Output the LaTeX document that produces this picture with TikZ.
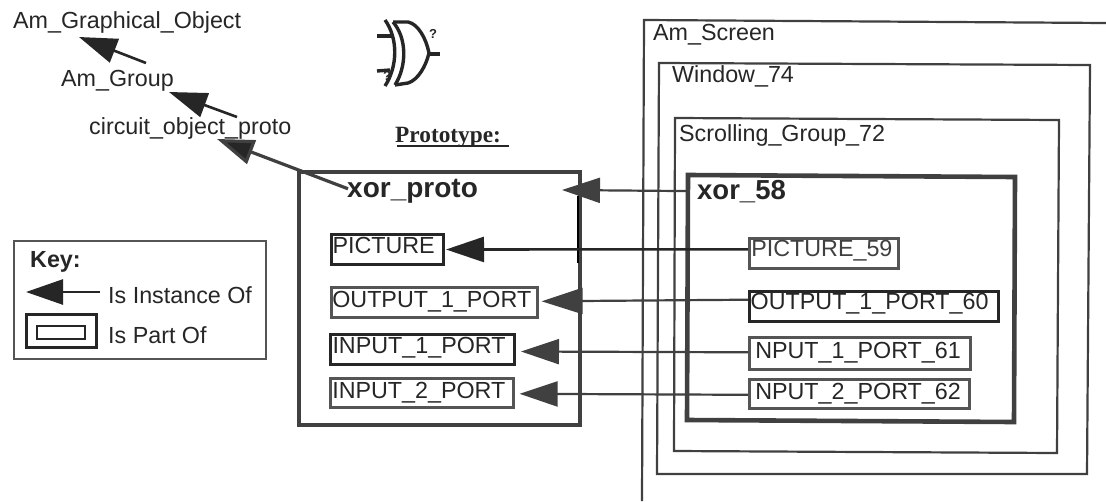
\documentclass[tikz,border=0pt]{standalone}
\usepackage{fontspec}
\setmainfont{Liberation Sans}
\newfontfamily\protofont{Liberation Serif}
\usetikzlibrary{arrows.meta}
\definecolor{ink}{HTML}{262626}
\definecolor{mid}{HTML}{404040}
\definecolor{soft}{HTML}{555555}
\newcommand{\bx}[3]{\makebox[#1pt][l]{\hspace{#2pt}#3}}
\tikzset{
  x=1pt,y=-1pt,
  lbl/.style={font=\fontsize{23.3}{26}\selectfont,text=ink,inner sep=0pt,anchor=base west},
  partbox/.style={draw=ink,line width=3pt,inner sep=0pt,anchor=north west,font=\fontsize{23.3}{26}\selectfont,text=ink,text height=19pt,text depth=11pt},
  softbox/.style={partbox,draw=soft,line width=2.6pt},
  frame/.style={draw=mid,line width=2.2pt},
  heavy/.style={draw=mid,line width=4.6pt},
  inst/.style={draw=ink,fill=ink,line width=2.6pt,-{Triangle[length=38pt,width=25pt,fill=ink]}},
  instm/.style={draw=mid,line width=2.2pt,-{Triangle[length=38pt,width=25pt,fill=mid]}},
}
\begin{document}
\begin{tikzpicture}
\useasboundingbox (0,0) rectangle (1106,501);
\fill[white] (0,0) rectangle (1106,501);
% screen frames
\draw[frame] (1106,23) -- (644,20) -- (642,501);
\draw[frame] (659,63) -- (1090,65) -- (1087,474) -- (657,474) -- cycle;
\draw[frame] (675,118) -- (1059,120) -- (1057,453) -- (674,451) -- cycle;
\draw[heavy] (688,175) -- (1015,177) -- (1014,422) -- (687,420) -- cycle;
\node[lbl] (screen) at (653,40) {Am\_Screen};
\node[lbl] (window) at (672,82) {Window\_74};
\node[lbl] (scroll) at (679,141) {Scrolling\_Group\_72};
\node[lbl,font=\fontsize{27.5}{30}\selectfont\bfseries] (xor58) at (697,199) {xor\_58};
% prototype box
\draw[heavy] (299,172) rectangle (580,425);
\draw[draw=black,line width=2pt] (578,196) -- (578,263);
\node[lbl,font=\fontsize{28}{30}\selectfont\bfseries] (xorp) at (347,197) {xor\_proto};
\node[partbox] (pic) at (330,233) {\bx{112}{1}{PICTURE}};
\node[softbox,text height=20pt,text depth=10pt] (out) at (330,286) {\bx{206}{1}{OUTPUT\_1\_PORT}};
\node[partbox] (in1) at (329,333) {\bx{184}{2}{INPUT\_1\_PORT}};
\node[softbox,text height=20pt,text depth=9pt] (in2) at (329,377) {\bx{183}{2}{INPUT\_2\_PORT}};
\node[softbox,text=mid,text height=18pt,text depth=12pt] (pic59) at (748,237) {\bx{149}{2}{PICTURE\_59}};
\node[partbox,line width=3.4pt,text height=18pt,text depth=12pt] (out60) at (748,290) {\bx{249}{1}{OUTPUT\_1\_PORT\_60}};
\node[softbox,text height=21pt,text depth=11pt] (in61) at (748,336) {\bx{221}{6}{NPUT\_1\_PORT\_61}};
\node[softbox,text height=20pt,text depth=9pt] (in62) at (748,378) {\bx{220}{6}{NPUT\_2\_PORT\_62}};
% inheritance labels
\node[lbl] (ago) at (13,28) {Am\_Graphical\_Object};
\node[lbl] (grp) at (61,86) {Am\_Group};
\node[lbl] (cop) at (89,134) {circuit\_object\_proto};
\coordinate (a1) at (146,63);
\coordinate (a1h) at (79,37);
\coordinate (a2) at (237,117);
\coordinate (a2h) at (169,92);
\coordinate (a3h) at (217,139);
\draw[inst] (a1) -- (a1h);
\draw[inst] (a2) -- (a2h);
\draw[draw=mid,line width=3.2pt,-{Triangle[length=37pt,width=25pt,fill=ink]}] ([xshift=1pt,yshift=2pt]xorp.west) -- (a3h);
% prototype
\node[font=\protofont\bfseries\fontsize{23.3}{26}\selectfont,text=ink,inner sep=0pt,anchor=base west] (proto) at (395,142) {Prototype:};
\coordinate (pu1) at (397,146);
\coordinate (pu2) at (509,146);
\draw[ink,line width=2.6pt] (pu1) -- (pu2);
% instance arrows
\coordinate (t0) at (562,190);
\draw[instm] ([xshift=-9pt]xor58.west) -- (t0);
\draw[inst] ([yshift=4pt]pic59.west) -- ([xshift=1pt]pic.east);
\draw[instm,-{Triangle[length=41pt,width=26pt,fill=mid]}] ([yshift=7pt]out60.west) -- ([xshift=3pt,yshift=1pt]out.east);
\draw[instm] ([yshift=1pt]in61.west) -- ([xshift=5pt,yshift=-2pt]in1.east);
\draw[instm] ([yshift=-1pt]in62.west) -- ([xshift=5pt,yshift=-1pt]in2.east);
% gate icon
\begin{scope}[ink,line width=3.4pt]
\draw (385,20) .. controls (398,38) and (398,66) .. (385,86);
\draw (393,22) .. controls (407,38) and (407,66) .. (395,85);
\draw (393,22) -- (408,22) .. controls (418,24) and (426,38) .. (429,53) .. controls (426,66) and (418,80) .. (408,83) -- (395,85);
\draw (377,36) -- (393,36);
\draw (377,71) -- (390,70);
\draw (429,54) -- (440,54);
\end{scope}
\node[font=\fontsize{13}{13}\selectfont\bfseries,text=ink,inner sep=0pt] (q1) at (433,34) {?};
\node[font=\fontsize{13}{13}\selectfont\bfseries,text=ink,inner sep=0pt] (q2) at (387,76) {?};
% key
\draw[draw=soft,line width=2.8pt] (14,241) rectangle (266,359);
\node[lbl,font=\fontsize{23.3}{26}\selectfont\bfseries] (key) at (30,267) {Key:};
\coordinate (k1) at (100,292);
\coordinate (k1h) at (26,292);
\draw[draw=ink,line width=2.6pt,-{Triangle[length=37pt,width=25pt,fill=ink]}] (k1) -- (k1h);
\node[lbl] (k1t) at (108,303) {Is Instance Of};
\node[lbl] (k2t) at (108,343) {Is Part Of};
\node[draw=ink,line width=3pt,minimum width=70pt,minimum height=33pt,inner sep=0pt] (kout) at (61,330.5) {};
\node[draw=ink,line width=2.6pt,minimum width=48pt,minimum height=13pt,inner sep=0pt] (kin) at (61,332.5) {};
\end{tikzpicture}
\end{document}
